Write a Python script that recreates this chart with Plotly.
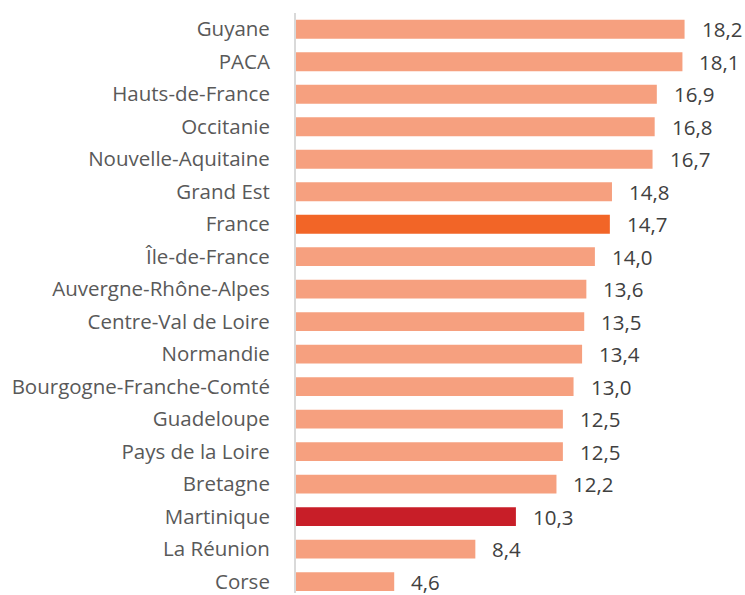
import plotly.graph_objects as go

regions = ["Guyane", "PACA", "Hauts-de-France", "Occitanie", "Nouvelle-Aquitaine",
           "Grand Est", "France", "Île-de-France", "Auvergne-Rhône-Alpes",
           "Centre-Val de Loire", "Normandie", "Bourgogne-Franche-Comté",
           "Guadeloupe", "Pays de la Loire", "Bretagne", "Martinique",
           "La Réunion", "Corse"]
values = [18.2, 18.1, 16.9, 16.8, 16.7, 14.8, 14.7, 14.0, 13.6, 13.5, 13.4,
          13.0, 12.5, 12.5, 12.2, 10.3, 8.4, 4.6]
labels = [f"{v:.1f}".replace(".", ",") for v in values]

base_color = "#F6A07F"
highlight = {"France": "#F26527", "Martinique": "#C81E28"}
colors = [highlight.get(r, base_color) for r in regions]

font_family = "Open Sans, Noto Sans, sans-serif"
label_color = "#595959"
value_color = "#404040"
fsize = 20.5

fig = go.Figure()
fig.add_trace(go.Bar(
    x=values, y=regions, orientation="h",
    marker=dict(color=colors, line=dict(width=0)),
    hoverinfo="skip",
))

for r, v, t in zip(regions, values, labels):
    fig.add_annotation(x=v, y=r, text=t, showarrow=False, xanchor="left",
                       xshift=15, font=dict(size=fsize, color=value_color, family=font_family))

fig.update_layout(
    width=745, height=595,
    margin=dict(l=296, r=22, t=13, b=0),
    plot_bgcolor="white", paper_bgcolor="white",
    bargap=0.42,
    showlegend=False,
    font=dict(family=font_family, size=fsize, color=label_color),
)
fig.update_xaxes(range=[0, 20], visible=False, showgrid=False, zeroline=False)
fig.update_yaxes(
    type="category",
    range=[17.35, -0.5],
    showline=True, linecolor="#D9D9D9", linewidth=2,
    showgrid=False, zeroline=False,
    ticks="", ticklabelstandoff=20,
    tickfont=dict(size=fsize, color=label_color, family=font_family),
)

fig.write_html("out.html",
               config={"displayModeBar": False, "staticPlot": True},
               post_script="document.body.style.margin='0';document.body.style.overflow='hidden';")
